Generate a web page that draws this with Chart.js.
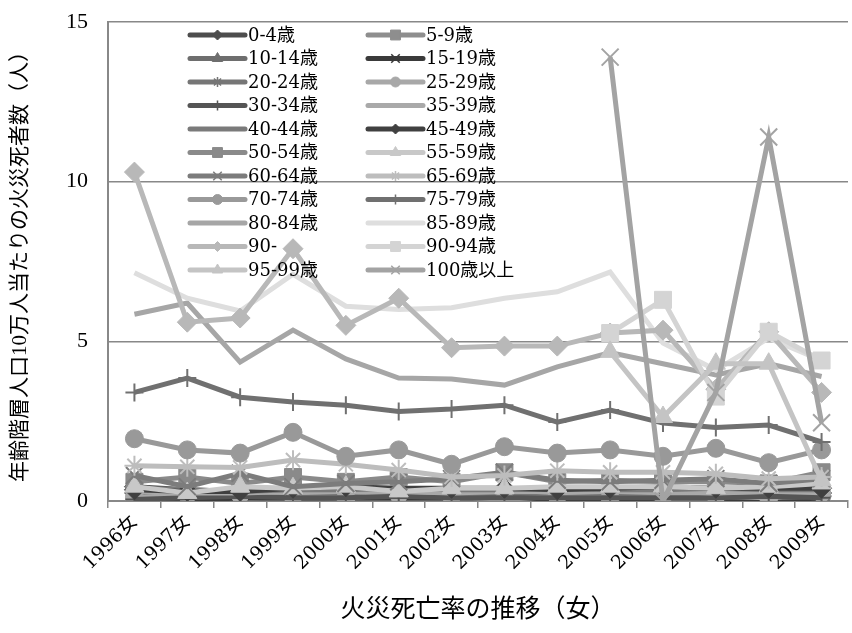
<!DOCTYPE html>
<html>
<head>
<meta charset="utf-8">
<script src="https://cdn.jsdelivr.net/npm/chart.js@4.4.1/dist/chart.umd.min.js"></script>
<style>
html,body{margin:0;padding:0;background:#fff;overflow:hidden;}
#wrap{width:862px;height:633px;}
</style>
</head>
<body>
<div id="wrap"><canvas id="c" width="862" height="633"></canvas></div>
<script>
// ---- data ----
const categories = ['1996女','1997女','1998女','1999女','2000女','2001女','2002女','2003女','2004女','2005女','2006女','2007女','2008女','2009女'];
const seriesNames = ['0-4歳','5-9歳','10-14歳','15-19歳','20-24歳','25-29歳','30-34歳','35-39歳','40-44歳','45-49歳','50-54歳','55-59歳','60-64歳','65-69歳','70-74歳','75-79歳','80-84歳','85-89歳','90-','90-94歳','95-99歳','100歳以上'];
const yTicks = [0, 5, 10, 15];

const age0_4   = [0.45,0.35,0.3,0.35,0.4,0.35,0.3,0.3,0.3,0.3,0.25,0.3,0.3,0.25];
const age5_9   = [0.2,0.15,0,0.15,0.1,0.1,0.1,0,0.1,0.1,0.1,0,0.1,0];
const age10_14 = [0.1,0.1,0.1,0.05,0.1,0,0.1,0.1,0.05,0.1,0.1,0.1,0.05,0.1];
const age15_19 = [0.1,0,0.1,0.1,0.1,0.1,0.1,0.1,0,0,0.1,0.1,0,0.1];
const age20_24 = [0.25,0.2,0.2,0.2,0.15,0.2,0.2,0.15,0.2,0.15,0.15,0.2,0.1,0.15];
const age25_29 = [0.1,0.2,0.2,0.15,0.1,0.2,0.15,0.05,0.15,0.1,0.15,0.15,0.1,0.25];
const age30_34 = [0.05,0.1,0.15,0.1,0.1,0.15,0.1,0.1,0.1,0.1,0.1,0.1,0.15,0.1];
const age35_39 = [0.3,0.25,0.25,0.3,0.3,0.3,0.25,0.3,0.3,0.3,0.3,0.25,0.3,0.3];
const age40_44 = [0.4,0.35,0.3,0.35,0.35,0.4,0.35,0.35,0.4,0.35,0.35,0.4,0.35,0.35];
const age45_49 = [0.35,0.3,0.3,0.4,0.45,0.4,0.4,0.4,0.35,0.4,0.45,0.4,0.4,0.4];
const age50_54 = [0.6,0.75,0.55,0.75,0.6,0.75,0.6,0.9,0.6,0.65,0.6,0.6,0.55,0.9];
const age55_59 = [0.45,0.25,0.45,0.4,0.45,0.3,0.4,0.4,0.45,0.45,0.45,0.4,0.45,0.55];
const age60_64 = [0.8,0.45,0.87,0.45,0.55,0.6,0.7,0.9,0.65,0.6,0.65,0.7,0.55,0.7];
const age65_69 = [1.1,1.07,1.05,1.28,1.15,0.97,0.75,0.8,0.95,0.9,0.9,0.85,0.7,0.75];
const age70_74 = [1.95,1.6,1.5,2.15,1.4,1.6,1.15,1.7,1.5,1.6,1.4,1.65,1.2,1.6];
const age75_79 = [3.4,3.85,3.25,3.1,3.0,2.8,2.88,3.0,2.47,2.85,2.44,2.3,2.38,1.85];
const age80_84 = [5.85,6.2,4.35,5.35,4.45,3.85,3.82,3.63,4.2,4.65,4.3,3.95,4.3,3.9];
const age85_89 = [7.15,6.35,5.95,7.1,6.1,6.0,6.05,6.35,6.55,7.17,4.95,4.1,5.1,4.4];
const age90up  = [10.3,5.6,5.73,7.9,5.5,6.35,4.8,4.85,4.85,5.26,5.35,3.5,5.3,3.4];
const age90_94 = [null,null,null,null,null,null,null,null,null,5.26,6.3,3.27,5.3,4.4];
const age95_99 = [null,null,null,null,null,null,null,null,null,4.67,2.63,4.3,4.3,0.65];
const age100up = [null,null,null,null,null,null,null,null,null,13.9,0,3.4,11.4,2.45];

const seriesValues = [age0_4,age5_9,age10_14,age15_19,age20_24,age25_29,age30_34,age35_39,age40_44,age45_49,age50_54,age55_59,age60_64,age65_69,age70_74,age75_79,age80_84,age85_89,age90up,age90_94,age95_99,age100up];

// ---- styles ----
const colors = ['#4d4d4d','#8e8e8e','#6e6e6e','#3a3a3a','#767676','#a8a8a8','#555555','#a9a9a9','#7a7a7a','#404040','#8a8a8a','#c8c8c8','#7c7c7c','#bdbdbd','#999999','#707070','#a6a6a6','#dedede','#b8b8b8','#d4d4d4','#c4c4c4','#a3a3a3'];
const markers = ['rectRot','rect','triangle','crossRot','star','circle','cross',false,false,'rectRot','rect','triangle','crossRot','star','circle','cross',false,false,'rectRot','rect','triangle','crossRot'];
const markerRadius = {rectRot:10, rect:12, triangle:11, crossRot:12, star:10, circle:9, cross:9};
const legendRadius = {rectRot:5, rect:7, triangle:6, crossRot:6, star:5, circle:5, cross:5};

const serif = "'Liberation Serif','DejaVu Serif','Noto Sans CJK JP',serif";
const serifWide = "'DejaVu Serif','Noto Sans CJK JP',serif";

const datasets = seriesNames.map((name, i) => {
  const m = markers[i];
  const stroked = m === 'crossRot' || m === 'star' || m === 'cross';
  return {
    label: name,
    data: seriesValues[i],
    borderColor: colors[i],
    backgroundColor: colors[i],
    borderWidth: 5,
    pointStyle: m || false,
    pointRadius: m ? markerRadius[m] : 0,
    pointBorderWidth: stroked ? 2 : 1,
    pointBackgroundColor: colors[i],
    pointBorderColor: colors[i],
    tension: 0,
    spanGaps: false,
    order: -i
  };
});

const legendPlugin = {
  id: 'inlineLegend',
  afterDatasetsDraw(chart) {
    const ctx = chart.ctx;
    ctx.save();
    const colX = [190, 368];
    const lineLen = 55;
    chart.data.datasets.forEach((ds, i) => {
      const col = i % 2;
      const row = Math.floor(i / 2);
      const x0 = colX[col];
      const y = 35 + row * 23.5;
      ctx.strokeStyle = ds.borderColor;
      ctx.lineWidth = 5;
      ctx.lineCap = 'round';
      ctx.beginPath();
      ctx.moveTo(x0, y);
      ctx.lineTo(x0 + lineLen, y);
      ctx.stroke();
      const m = markers[i];
      if (m) {
        ctx.fillStyle = ds.borderColor;
        ctx.strokeStyle = ds.borderColor;
        ctx.lineWidth = (m === 'crossRot' || m === 'star' || m === 'cross') ? 1.5 : 1;
        ctx.lineCap = 'butt';
        Chart.helpers.drawPoint(ctx, {pointStyle: m, radius: legendRadius[m], rotation: 0, borderWidth: ctx.lineWidth}, x0 + lineLen / 2, y);
      }
      ctx.fillStyle = '#000';
      ctx.font = "18px " + serifWide;
      ctx.textBaseline = 'middle';
      ctx.textAlign = 'left';
      ctx.fillText(ds.label, x0 + lineLen + 3, y + 1);
    });
    ctx.restore();
  }
};

new Chart(document.getElementById('c'), {
  type: 'line',
  data: { labels: categories, datasets },
  options: {
    responsive: false,
    animation: false,
    events: [],
    layout: { padding: { top: 22, right: 2, left: 0, bottom: 0 } },
    plugins: { legend: { display: false }, tooltip: { enabled: false } },
    scales: {
      x: {
        offset: true,
        grid: { display: true, drawOnChartArea: false, drawTicks: true, tickLength: 7, color: '#888', lineWidth: 1.5, offset: true },
        border: { display: true, color: '#888', width: 2 },
        ticks: { autoSkip: false, minRotation: 45, maxRotation: 45, color: '#000', font: { family: serifWide, size: 19 }, padding: 3 },
        title: { display: true, text: '火災死亡率の推移（女）', color: '#000', font: { family: serif, size: 25 }, padding: { top: 0, bottom: 8 } },
        afterFit(scale) { scale.height = 132; }
      },
      y: {
        min: 0, max: 15,
        afterBuildTicks(scale) { scale.ticks = yTicks.map(v => ({ value: v })); },
        grid: { color: '#888', lineWidth: 1.5, drawTicks: false },
        border: { display: true, color: '#888', width: 2 },
        ticks: { color: '#000', font: { family: serif, size: 22 }, padding: 20 },
        title: { display: true, text: '年齢階層人口10万人当たりの火災死者数（人）', color: '#000', font: { family: serif, size: 21 }, padding: { top: 8, bottom: 4 } },
        afterFit(scale) { scale.width = 108; scale.paddingTop = 12; scale.paddingBottom = 12; }
      }
    }
  },
  plugins: [legendPlugin]
});
</script>
</body>
</html>
